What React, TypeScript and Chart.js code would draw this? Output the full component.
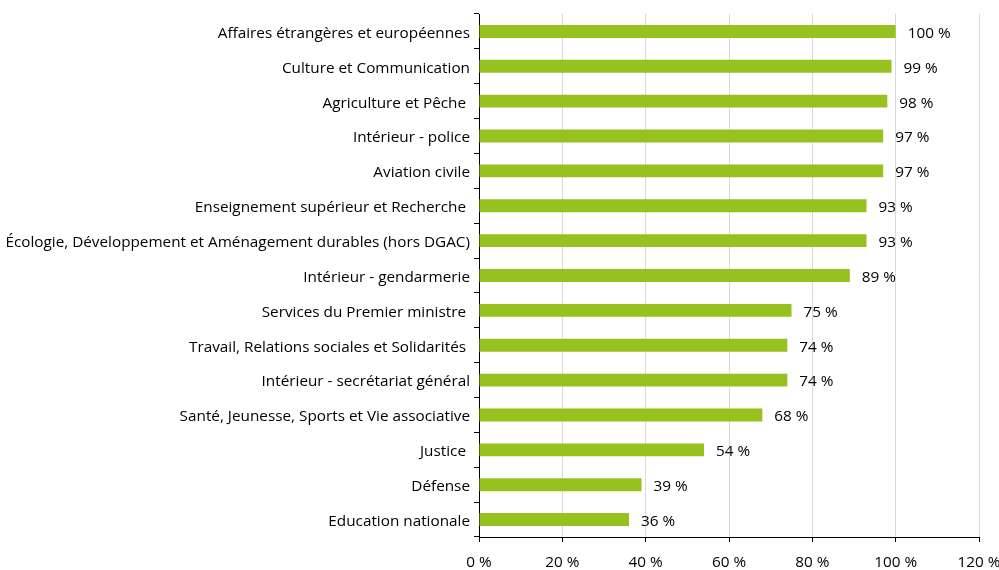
import React, { useEffect, useRef } from "react";
import { Chart, registerables } from "chart.js";

Chart.register(...registerables);

const categories = [
  "Affaires étrangères et européennes",
  "Culture et Communication",
  "Agriculture et Pêche ",
  "Intérieur - police",
  "Aviation civile",
  "Enseignement supérieur et Recherche ",
  "Écologie, Développement et Aménagement durables (hors DGAC)",
  "Intérieur - gendarmerie",
  "Services du Premier ministre ",
  "Travail, Relations sociales et Solidarités ",
  "Intérieur - secrétariat général",
  "Santé, Jeunesse, Sports et Vie associative",
  "Justice ",
  "Défense",
  "Education nationale",
];

const values = [100, 99, 98, 97, 97, 93, 93, 89, 75, 74, 74, 68, 54, 39, 36];

const xTicks = [0, 20, 40, 60, 80, 100, 120];

const FONT = "'Open Sans', 'Noto Sans', sans-serif";
const FS = 15.3;

const labelPlugin = {
  id: "barLabels",
  afterDatasetsDraw(chart: any) {
    const ctx = chart.ctx;
    const meta = chart.getDatasetMeta(0);
    ctx.save();
    ctx.font = `${FS}px ${FONT}`;
    ctx.fillStyle = "#000000";
    ctx.textAlign = "left";
    ctx.textBaseline = "middle";
    meta.data.forEach((bar: any, i: number) => {
      ctx.fillText(`${values[i]} %`, bar.x + 12, bar.y + 2);
    });
    ctx.restore();
  },
};

export default function App() {
  const ref = useRef<HTMLCanvasElement>(null);
  useEffect(() => {
    if (!ref.current) return;
    const chart = new Chart(ref.current, {
      type: "bar",
      data: {
        labels: categories,
        datasets: [
          {
            data: values,
            backgroundColor: "#97c11f",
            borderWidth: 0,
            categoryPercentage: 1,
            barPercentage: 0.37,
          },
        ],
      },
      options: {
        indexAxis: "y",
        animation: false,
        responsive: false,
        devicePixelRatio: 1,
        layout: { padding: { top: 14, right: 0, left: 0, bottom: 0 } },
        plugins: {
          legend: { display: false },
          tooltip: { enabled: false },
        },
        scales: {
          x: {
            min: 0,
            max: 120,
            afterBuildTicks: (s: any) => {
              s.ticks = xTicks.map((v) => ({ value: v }));
            },
            afterFit: (s: any) => {
              s.height = 33;
              s.paddingRight = 20;
              s.paddingLeft = 0;
            },
            grid: {
              color: "#d9d9d9",
              lineWidth: 1,
              tickColor: "#000000",
              tickLength: 5,
              drawTicks: true,
            },
            border: { color: "#000000", width: 1 },
            ticks: {
              padding: 11,
              color: "#000000",
              font: { family: FONT, size: FS },
              callback: (v: any) => `${v} %`,
              maxRotation: 0,
            },
          },
          y: {
            afterFit: (s: any) => {
              s.width = 479;
            },
            grid: {
              offset: true,
              drawOnChartArea: false,
              tickColor: "#000000",
              tickLength: 5,
            },
            border: { color: "#000000", width: 1 },
            ticks: {
              padding: 4,
              labelOffset: 2,
              color: "#000000",
              font: { family: FONT, size: FS },
              autoSkip: false,
            },
          },
        },
      },
      plugins: [labelPlugin],
    });
    return () => chart.destroy();
  }, []);
  return (
    <div style={{ position: "fixed", left: 0, top: 0, width: 999, height: 570, background: "#fff" }}>
      <canvas ref={ref} width={999} height={570} style={{ width: 999, height: 570 }} />
    </div>
  );
}
